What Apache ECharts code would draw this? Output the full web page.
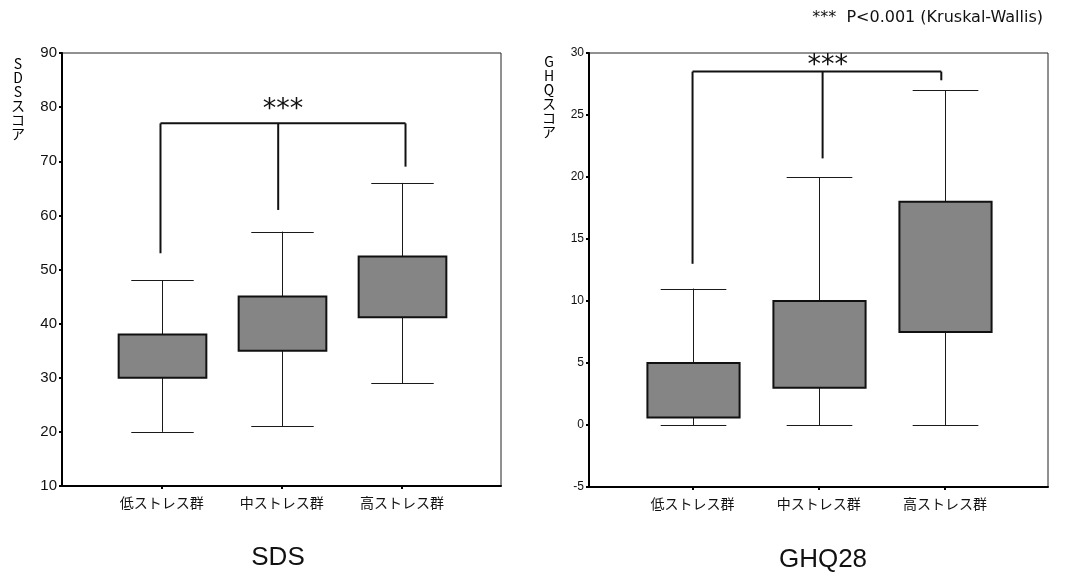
<!DOCTYPE html>
<html><head><meta charset="utf-8">
<script src="https://cdn.jsdelivr.net/npm/echarts@6/dist/echarts.min.js"></script>
<style>html,body{margin:0;padding:0;background:#fff}#c{width:1069px;height:574px}</style>
</head><body><div id="c"></div>
<script>
const categories = ['低ストレス群', '中ストレス群', '高ストレス群'];
const categoryPos = [1, 2, 3];

// SDS
const sdsWhiskerLow = [20, 21, 29];
const sdsQ1 = [30, 35, 41.2];
const sdsQ3 = [38, 45, 52.4];
const sdsWhiskerHigh = [48, 57, 66];
const sdsBracketTop = 77;
const sdsBracketLegX = [0.99, 1.97, 3.03];
const sdsBracketLegEnd = [53, 61, 69];
const sdsStarPos = [2.01, 80];

// GHQ28
const ghqWhiskerLow = [0, 0, 0];
const ghqQ1 = [0.6, 3, 7.5];
const ghqQ3 = [5, 10, 18];
const ghqWhiskerHigh = [11, 20, 27];
const ghqBracketTop = 28.5;
const ghqBracketLegX = [1.0, 2.03, 2.97];
const ghqBracketLegEnd = [13, 21.5, 27.8];
const ghqStarPos = [2.07, 29.2];

const sdsAxis = { min: 10, max: 90, interval: 10 };
const ghqAxis = { min: -5, max: 30, interval: 5 };

const chart = echarts.init(document.getElementById('c'));

function boxData(lo, q1, q3, hi) {
  return categoryPos.map((x, i) => [x, lo[i], q1[i], q3[i], hi[i]]);
}
function renderBox(params, api) {
  const x = api.value(0);
  const pLo = api.coord([x, api.value(1)]);
  const pQ1 = api.coord([x, api.value(2)]);
  const pQ3 = api.coord([x, api.value(3)]);
  const pHi = api.coord([x, api.value(4)]);
  const unit = api.size([1, 0])[0];
  const bw = unit * 0.73, cw = unit * 0.52;
  const cx = Math.round(pQ1[0]) + 0.5;
  const ls = { stroke: '#1a1a1a', lineWidth: 1 };
  return { type: 'group', children: [
    { type: 'line', shape: { x1: cx, y1: pQ3[1], x2: cx, y2: pHi[1] }, style: ls },
    { type: 'line', shape: { x1: cx, y1: pQ1[1], x2: cx, y2: pLo[1] }, style: ls },
    { type: 'line', shape: { x1: cx - cw / 2, y1: Math.round(pHi[1]) + 0.5, x2: cx + cw / 2, y2: Math.round(pHi[1]) + 0.5 }, style: ls },
    { type: 'line', shape: { x1: cx - cw / 2, y1: Math.round(pLo[1]) + 0.5, x2: cx + cw / 2, y2: Math.round(pLo[1]) + 0.5 }, style: ls },
    { type: 'rect', shape: { x: cx - bw / 2, y: pQ3[1], width: bw, height: pQ1[1] - pQ3[1] },
      style: { fill: '#858585', stroke: '#111', lineWidth: 2 } }
  ]};
}
function legData(xs, ends, top) {
  return xs.map((x, i) => [x, top, ends[i]]);
}
function renderLeg(params, api) {
  const p1 = api.coord([api.value(0), api.value(1)]);
  const p2 = api.coord([api.value(0), api.value(2)]);
  return { type: 'line', shape: { x1: p1[0], y1: p1[1], x2: p2[0], y2: p2[1] },
    style: { stroke: '#111', lineWidth: 2 } };
}
function renderStars(params, api) {
  const p = api.coord([api.value(0), api.value(1)]);
  return { type: 'text', x: p[0], y: p[1] + 3, style: { text: '***', fill: '#111',
    font: '27px "DejaVu Sans"', align: 'center', verticalAlign: 'middle' } };
}

function xAxisCfg(gi, min, max) {
  return {
    gridIndex: gi, type: 'value', min: min, max: max,
    splitLine: { show: false },
    axisLine: { onZero: false, lineStyle: { color: '#000', width: 2 } },
    axisTick: { customValues: categoryPos, length: 3, lineStyle: { color: '#000', width: 2 } },
    axisLabel: { customValues: categoryPos, formatter: v => categories[Math.round(v) - 1],
      color: '#111', fontSize: 14, fontFamily: '"Noto Sans CJK JP"', margin: 10 }
  };
}
function yAxisCfg(gi, ax, fs) {
  return {
    gridIndex: gi, type: 'value', min: ax.min, max: ax.max, interval: ax.interval,
    splitLine: { show: false },
    axisLine: { onZero: false, lineStyle: { color: '#000', width: 2 } },
    axisTick: { length: 3, lineStyle: { color: '#000', width: 2 } },
    axisLabel: { color: '#111', fontSize: fs, fontFamily: '"Liberation Sans"', margin: 5 }
  };
}

chart.setOption({
  animation: false,
  backgroundColor: '#fff',
  title: [
    { text: 'SDS', left: 273, top: 540, textAlign: 'center',
      textStyle: { fontSize: 26, fontWeight: 'normal', color: '#111', fontFamily: '"Liberation Sans"' } },
    { text: 'GHQ28', left: 818, top: 542, textAlign: 'center',
      textStyle: { fontSize: 26, fontWeight: 'normal', color: '#111', fontFamily: '"Liberation Sans"' } }
  ],
  graphic: [
    { type: 'text', x: 18, y: 57, style: { text: 'SDSスコア'.split('').join('\n'), align: 'center',
      font: '14px "Noto Sans CJK JP"', lineHeight: 14, fill: '#000' } },
    { type: 'text', x: 549, y: 55, style: { text: 'GHQスコア'.split('').join('\n'), align: 'center',
      font: '14px "Noto Sans CJK JP"', lineHeight: 14, fill: '#000' } },
    { type: 'text', right: 26, top: 10, style: { text: '***  P<0.001 (Kruskal-Wallis)',
      font: '16px "DejaVu Sans"', fill: '#111' } }
  ],
  grid: [
    { left: 62, top: 53, width: 439, height: 433, show: true, borderColor: '#222', borderWidth: 1 },
    { left: 589, top: 53, width: 459, height: 434, show: true, borderColor: '#222', borderWidth: 1 }
  ],
  xAxis: [xAxisCfg(0, 0.17, 3.825), xAxisCfg(1, 0.18, 3.815)],
  yAxis: [yAxisCfg(0, sdsAxis, 15), yAxisCfg(1, ghqAxis, 12)],
  series: [
    { type: 'custom', xAxisIndex: 0, yAxisIndex: 0, renderItem: renderBox,
      data: boxData(sdsWhiskerLow, sdsQ1, sdsQ3, sdsWhiskerHigh) },
    { type: 'custom', xAxisIndex: 1, yAxisIndex: 1, renderItem: renderBox,
      data: boxData(ghqWhiskerLow, ghqQ1, ghqQ3, ghqWhiskerHigh) },
    { type: 'custom', xAxisIndex: 0, yAxisIndex: 0, renderItem: renderLeg,
      data: legData(sdsBracketLegX, sdsBracketLegEnd, sdsBracketTop) },
    { type: 'custom', xAxisIndex: 1, yAxisIndex: 1, renderItem: renderLeg,
      data: legData(ghqBracketLegX, ghqBracketLegEnd, ghqBracketTop) },
    { type: 'line', xAxisIndex: 0, yAxisIndex: 0, symbol: 'none', lineStyle: { color: '#111', width: 2 },
      data: [[sdsBracketLegX[0], sdsBracketTop], [sdsBracketLegX[2], sdsBracketTop]] },
    { type: 'line', xAxisIndex: 1, yAxisIndex: 1, symbol: 'none', lineStyle: { color: '#111', width: 2 },
      data: [[ghqBracketLegX[0], ghqBracketTop], [ghqBracketLegX[2], ghqBracketTop]] },
    { type: 'custom', xAxisIndex: 0, yAxisIndex: 0, renderItem: renderStars, data: [sdsStarPos] },
    { type: 'custom', xAxisIndex: 1, yAxisIndex: 1, renderItem: renderStars, data: [ghqStarPos] }
  ]
});
</script></body></html>
